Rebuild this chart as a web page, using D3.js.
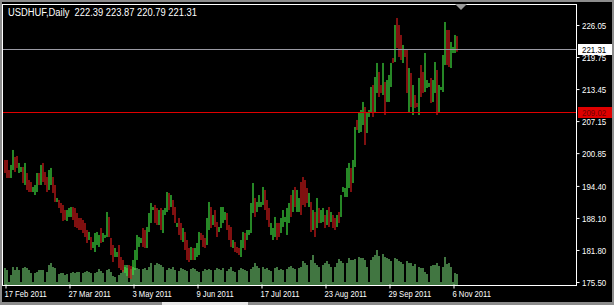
<!DOCTYPE html>
<html>
<head>
<meta charset="utf-8">
<script src="https://d3js.org/d3.v7.min.js"></script>
<style>
  body { margin: 0; background: #000; }
  text { font-family: "Liberation Sans", Arial, sans-serif; }
</style>
</head>
<body>
<script>
// USDHUF daily bars, 17 Feb 2011 .. 9 Nov 2011 (Sunday bars included)
var symbol = "USDHUF,Daily";
var lastBar = {open: 222.39, high: 223.87, low: 220.79, close: 221.31};
var lineLevel = 209.02;

// G = close above open, R = close below open
var dirs =
  "RRRGGR" + "RGGRGR" + "RRGGGR" + "GRRRGG" + "RRGRRR" + "RGGGRR" +
  "RRRRRR" + "GRGGGG" + "RGGGRR" + "RGGRRR" + "GGRRGG" + "GGGRRG" +
  "GGGRRG" + "RGGGRG" + "RRGRRG" + "RRRGRG" + "GGRRRG" + "GRGRRG" +
  "GGGRRR" + "GRRRGG" + "RGGGGR" + "GGGGRR" + "RGGGRR" + "GGGGGR" +
  "GRGGRR" + "RRGRGR" + "GRGGRG" + "RGRRGR" + "GGGGGR" + "GGRGGG" +
  "RGGGRG" + "GRRGRG" + "GGRGRR" + "RGRRGR" + "GRRGRR" + "GGGRGG" +
  "RGGGGR" + "RGGGR";

var highs = [
  199.50, 199.50, 197.53, 198.52, 201.47, 200.09,
  200.29, 198.91, 198.12, 198.12, 198.91, 196.94,
  195.56, 195.17, 194.19, 194.58, 196.94, 196.94,
  198.52, 198.91, 197.14, 196.15, 197.53, 197.93,
  196.15, 194.58, 192.02, 191.63, 191.04, 190.65,
  189.66, 189.66, 190.06, 190.25, 190.25, 190.06,
  189.07, 188.09, 188.09, 187.70, 187.11, 185.73,
  185.34, 184.35, 183.37, 185.14, 185.34, 184.75,
  186.12, 185.14, 184.75, 189.27, 188.29, 184.16,
  182.78, 182.19, 181.40, 182.78, 180.42, 179.83,
  178.84, 178.25, 178.84, 178.65, 179.83, 181.80,
  184.75, 184.35, 184.16, 186.12, 185.73, 186.32,
  189.07, 191.04, 190.25, 190.65, 190.06, 189.66,
  190.06, 189.66, 190.06, 193.20, 193.01, 192.61,
  191.63, 190.25, 187.11, 188.09, 187.11, 186.12,
  185.34, 183.76, 182.19, 182.39, 182.19, 182.19,
  183.17, 185.34, 185.14, 184.75, 184.16, 188.09,
  191.24, 190.25, 188.68, 189.66, 187.30, 186.32,
  190.25, 190.25, 189.27, 189.07, 186.71, 186.32,
  183.76, 183.37, 182.39, 182.19, 183.76, 185.34,
  185.14, 185.73, 185.73, 191.04, 194.97, 192.02,
  191.24, 192.61, 191.24, 194.19, 193.60, 191.63,
  190.06, 187.11, 186.12, 188.29, 187.11, 187.11,
  188.09, 189.66, 188.29, 190.06, 191.04, 192.61,
  193.60, 194.19, 193.60, 192.02, 195.17, 196.15,
  195.56, 193.99, 193.01, 191.24, 189.66, 189.27,
  192.02, 190.06, 189.66, 190.06, 188.68, 189.66,
  190.25, 189.27, 188.68, 188.09, 188.68, 189.27,
  192.61, 194.19, 193.99, 197.93, 198.91, 197.93,
  199.50, 205.99, 207.37, 208.74, 209.33, 210.91,
  209.92, 208.74, 209.33, 213.86, 214.25, 215.82,
  218.58, 216.81, 214.25, 218.58, 214.84, 215.23,
  216.22, 218.58, 219.56, 226.05, 227.43, 226.05,
  224.09, 222.12, 221.14, 221.14, 217.59, 216.61,
  214.25, 212.28, 210.71, 215.63, 218.18, 216.81,
  220.54, 215.23, 214.64, 215.63, 215.23, 218.77,
  217.20, 214.25, 213.86, 220.15, 226.64, 225.07,
  225.07, 222.71, 221.73, 224.09, 223.87
];

var lows = [
  196.94, 195.96, 195.96, 195.96, 197.53, 197.14,
  197.93, 196.94, 197.14, 194.97, 194.58, 193.60,
  193.20, 193.20, 193.20, 192.61, 193.20, 194.58,
  194.58, 195.17, 194.58, 193.20, 193.60, 194.58,
  193.01, 191.24, 191.24, 190.06, 189.07, 187.50,
  187.70, 187.50, 188.29, 188.29, 187.70, 186.32,
  186.12, 185.73, 185.73, 185.14, 184.35, 183.17,
  183.76, 181.80, 182.19, 181.40, 182.78, 182.39,
  183.17, 183.37, 184.16, 184.35, 184.35, 180.81,
  179.43, 180.42, 180.42, 178.25, 177.86, 177.47,
  177.27, 176.68, 176.29, 176.09, 176.88, 177.86,
  179.83, 182.39, 183.17, 182.39, 182.19, 182.19,
  185.34, 187.11, 189.66, 187.11, 186.71, 186.71,
  185.73, 185.14, 188.68, 189.27, 189.66, 190.25,
  188.68, 187.11, 186.32, 184.75, 183.76, 183.37,
  181.80, 179.83, 179.43, 179.83, 179.83, 179.83,
  180.42, 180.81, 183.76, 182.39, 182.19, 182.78,
  185.73, 186.12, 186.71, 186.32, 184.35, 185.34,
  186.12, 187.11, 187.70, 185.73, 183.76, 182.39,
  182.19, 181.40, 181.20, 180.81, 180.42, 182.19,
  181.80, 183.76, 184.75, 185.14, 189.07, 188.29,
  189.27, 190.25, 190.25, 190.65, 189.66, 187.70,
  186.32, 184.75, 183.76, 184.35, 183.76, 184.35,
  185.14, 186.32, 187.30, 184.75, 187.11, 188.29,
  189.27, 190.25, 189.27, 189.27, 188.68, 190.65,
  190.25, 191.04, 190.25, 185.34, 185.73, 184.35,
  186.12, 187.11, 187.11, 187.30, 186.12, 186.71,
  186.32, 187.30, 186.12, 185.73, 186.32, 187.11,
  188.29, 193.20, 192.22, 192.22, 193.99, 193.20,
  194.97, 198.12, 205.40, 204.81, 205.01, 206.38,
  202.45, 204.81, 207.96, 208.94, 207.96, 208.74,
  212.68, 211.89, 212.68, 212.28, 208.35, 210.91,
  210.91, 213.86, 218.58, 218.77, 221.53, 219.76,
  219.17, 218.58, 219.76, 212.68, 208.94, 209.92,
  208.35, 209.73, 209.92, 208.35, 211.89, 212.68,
  212.87, 213.66, 213.86, 210.71, 210.91, 212.68,
  208.35, 208.94, 213.27, 212.87, 218.18, 218.18,
  217.79, 217.59, 220.54, 220.54, 220.79
];

// tick volume, thousands
var volumes = [
  17, 15, 3, 10, 18, 15,   18, 15, 3, 17, 18, 17,
  15, 12, 3, 12, 13, 15,   15, 15, 3, 13, 20, 22,
  18, 17, 3, 11, 12, 12,   10, 11, 3, 12, 13, 12,
  13, 13, 3, 12, 13, 14,   13, 12, 3, 12, 13, 16,
  14, 12, 3, 15, 16, 13,   9, 8, 3, 10, 12, 15,
  18, 20, 3, 16, 18, 17,   17, 16, 3, 16, 17, 15,
  18, 22, 3, 20, 22, 21,   20, 18, 3, 15, 17, 16,
  18, 15, 3, 14, 17, 16,   15, 14, 3, 16, 17, 16,
  14, 13, 3, 14, 16, 15,   16, 15, 3, 15, 17, 16,
  15, 17, 3, 14, 16, 18,   14, 13, 3, 15, 17, 16,
  15, 14, 3, 16, 18, 22,   19, 17, 3, 18, 16, 17,
  15, 14, 3, 17, 18, 15,   16, 15, 3, 16, 18, 19,
  17, 16, 3, 17, 18, 24,   22, 20, 3, 25, 30, 22,
  20, 18, 3, 20, 22, 24,   21, 18, 3, 18, 22, 26,
  24, 22, 3, 22, 27, 25,   25, 26, 3, 28, 27, 27,
  25, 18, 3, 25, 28, 30,   35, 29, 3, 31, 28, 27,
  26, 24, 3, 27, 26, 24,   23, 21, 3, 24, 22, 22,
  19, 21, 3, 18, 17, 17,   13, 11, 3, 19, 20, 20,
  22, 19, 3, 18, 28, 21,   22, 18, 3, 12, 11
];

var dateTicks = ["17 Feb 2011", "27 Mar 2011", "3 May 2011", "9 Jun 2011",
  "17 Jul 2011", "23 Aug 2011", "29 Sep 2011", "6 Nov 2011"];
var dateTickBars = [0, 32, 64, 96, 128, 160, 192, 224];
var priceTicks = [226.05, 219.75, 213.45, 207.15, 200.85, 194.40, 188.10, 181.80, 175.50];

var W = 614, H = 305;
var plot = {left: 2.5, right: 576.5, top: 4.5, bottom: 285.5};
var barW = 1.2;

var bars = highs.map(function(h, i) {
  return {i: i, high: h, low: lows[i], up: dirs[i] === "G", vol: volumes[i]};
});

var x = d3.scaleLinear().domain([0, bars.length - 1]).range([5, 5 + 2 * (bars.length - 1)]);
var y = d3.scaleLinear().domain([175.5, 226.05]).range([282, 25]);
var yVol = d3.scaleLinear().domain([0, 40]).range([285, 245]);

var svg = d3.select("body").append("svg")
  .attr("width", W)
  .attr("height", H);

// window border
svg.append("rect").attr("width", W).attr("height", H).attr("fill", "#8c8c8c");
svg.append("rect").attr("x", 2).attr("y", 2).attr("width", W - 4).attr("height", H - 5)
  .attr("fill", "#000");
svg.append("rect").attr("x", 162).attr("y", 302).attr("width", 86).attr("height", 3)
  .attr("fill", "#e8e8e8");

// volumes
svg.append("g").selectAll("rect")
  .data(bars)
  .enter()
  .append("rect")
  .attr("x", d => x(d.i) - 0.6)
  .attr("y", d => yVol(d.vol))
  .attr("width", barW)
  .attr("height", d => yVol(0) - yVol(d.vol))
  .attr("fill", "#6cc46c");

// candles (at this zoom each bar is a single high-low line)
svg.append("g").selectAll("rect")
  .data(bars)
  .enter()
  .append("rect")
  .attr("x", d => x(d.i) - 0.6)
  .attr("y", d => y(d.high))
  .attr("width", barW)
  .attr("height", d => Math.max(1, y(d.low) - y(d.high)))
  .attr("fill", d => d.up ? "#40e040" : "#d41c1c");

// bid line and horizontal line
svg.append("line")
  .attr("x1", plot.left).attr("x2", plot.right)
  .attr("y1", Math.round(y(lastBar.close)) + 0.5).attr("y2", Math.round(y(lastBar.close)) + 0.5)
  .attr("stroke", "#9a9aa4");
svg.append("line")
  .attr("x1", plot.left).attr("x2", plot.right)
  .attr("y1", Math.round(y(lineLevel)) + 0.5).attr("y2", Math.round(y(lineLevel)) + 0.5)
  .attr("stroke", "#e00000");

// chart frame
svg.append("rect")
  .attr("x", plot.left).attr("y", plot.top)
  .attr("width", plot.right - plot.left).attr("height", plot.bottom - plot.top)
  .attr("fill", "none").attr("stroke", "#fff");

// price scale
var rightAxis = d3.axisRight(y).tickValues(priceTicks).tickFormat(d3.format(".2f")).tickSize(3);
var yAxis = svg.append("g")
  .attr("transform", `translate(${plot.right}, 0)`)
  .call(rightAxis);
yAxis.select(".domain").remove();
yAxis.selectAll("line").attr("stroke", "#fff");
yAxis.selectAll("text")
  .attr("x", 0).attr("dy", null)
  .attr("fill", "#fff")
  .attr("font-size", 9)
  .attr("text-anchor", "start")
  .attr("transform", "translate(5.5, 3.5) scale(0.88, 1)");

// date scale
var bottomAxis = d3.axisBottom(x).tickValues(dateTickBars)
  .tickFormat((d, i) => dateTicks[i]).tickSize(4);
var xAxis = svg.append("g")
  .attr("transform", `translate(0.5, ${plot.bottom - 1})`)
  .call(bottomAxis);
xAxis.select(".domain").remove();
xAxis.selectAll("line").attr("stroke", "#fff");
xAxis.selectAll("text")
  .attr("y", 0).attr("dy", null)
  .attr("fill", "#fff")
  .attr("font-size", 9)
  .attr("text-anchor", "start")
  .attr("transform", "translate(-1.5, 12) scale(0.85, 1)");

// price tags
function priceTag(value, bg, fg) {
  var yy = Math.round(y(value));
  svg.append("rect")
    .attr("x", 578).attr("y", yy - 5).attr("width", 34).attr("height", 11)
    .attr("fill", bg);
  svg.append("text")
    .attr("transform", `translate(582, ${yy + 4}) scale(0.88, 1)`)
    .attr("fill", fg)
    .attr("font-size", 9)
    .text(d3.format(".2f")(value));
}
priceTag(lastBar.close, "#fff", "#000");
priceTag(lineLevel, "#e00000", "#700000");

// chart shift marker
svg.append("path")
  .attr("d", "M455,4L467,4L461,10Z")
  .attr("fill", "#9a9a9a");

// header
svg.append("text")
  .attr("x", 8).attr("y", 16)
  .attr("fill", "#fff")
  .attr("font-size", 10)
  .attr("textLength", 189)
  .attr("lengthAdjust", "spacingAndGlyphs")
  .attr("xml:space", "preserve")
  .text(symbol + "  " + [lastBar.open, lastBar.high, lastBar.low, lastBar.close]
    .map(d3.format(".2f")).join(" "));
</script>
</body>
</html>
